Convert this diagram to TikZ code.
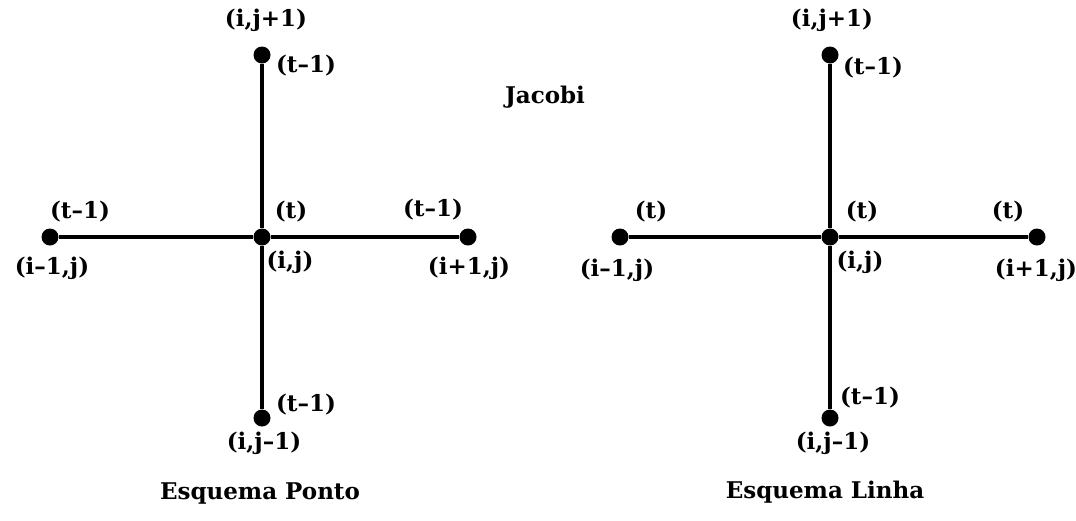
\documentclass[tikz,border=0pt]{standalone}
\usepackage{fontspec}
\setmainfont{DejaVu Serif}
\usetikzlibrary{positioning}

\begin{document}
\begin{tikzpicture}[
            x=1pt, y=-1pt,
            font=\bfseries\fontsize{23}{26}\selectfont,
            ponto/.style={circle, fill=black, inner sep=0pt, minimum size=17pt},
            haste/.style={line width=4pt},
            rotulo/.style={inner sep=0pt}
        ]
        \useasboundingbox (0,0) rectangle (1076,520);

        % Esquema Ponto
        \node (c1) [ponto] at (262,237) {};
        \node (n1) [ponto] at (262,55) {};
        \node (s1) [ponto] at (262,418) {};
        \node (w1) [ponto] at (50,237) {};
        \node (e1) [ponto] at (468,237) {};

        \draw [haste] (n1) -- (c1) -- (s1);
        \draw [haste] (w1) -- (c1) -- (e1);

        \node (n1ij) [rotulo] at (266,20) {(i,j+1)};
        \node (n1t) [rotulo] at (306,66) {(t–1)};
        \node (w1t) [rotulo] at (80,212) {(t–1)};
        \node (w1ij) [rotulo] at (52,268) {(i–1,j)};
        \node (c1t) [rotulo] at (291,212) {(t)};
        \node (c1ij) [rotulo] at (290,262) {(i,j)};
        \node (e1t) [rotulo] at (433,210) {(t–1)};
        \node (e1ij) [rotulo] at (469,268) {(i+1,j)};
        \node (s1t) [rotulo] at (306,405) {(t–1)};
        \node (s1ij) [rotulo] at (264,443) {(i,j–1)};
        \node (titulo1) [rotulo] at (260,493) {Esquema Ponto};

        \node (jacobi) [rotulo] at (545,97) {Jacobi};

        % Esquema Linha
        \node (c2) [ponto] at (830,237) {};
        \node (n2) [ponto] at (830,55) {};
        \node (s2) [ponto] at (830,418) {};
        \node (w2) [ponto] at (620,237) {};
        \node (e2) [ponto] at (1037,237) {};

        \draw [haste] (n2) -- (c2) -- (s2);
        \draw [haste] (w2) -- (c2) -- (e2);

        \node (n2ij) [rotulo] at (832,20) {(i,j+1)};
        \node (n2t) [rotulo] at (873,68) {(t–1)};
        \node (w2t) [rotulo] at (651,212) {(t)};
        \node (w2ij) [rotulo] at (617,270) {(i–1,j)};
        \node (c2t) [rotulo] at (862,212) {(t)};
        \node (c2ij) [rotulo] at (860,262) {(i,j)};
        \node (e2t) [rotulo] at (1008,212) {(t)};
        \node (e2ij) [rotulo] at (1036,270) {(i+1,j)};
        \node (s2t) [rotulo] at (870,398) {(t–1)};
        \node (s2ij) [rotulo] at (833,443) {(i,j–1)};
        \node (titulo2) [rotulo] at (825,492) {Esquema Linha};

    \end{tikzpicture}
\end{document}
